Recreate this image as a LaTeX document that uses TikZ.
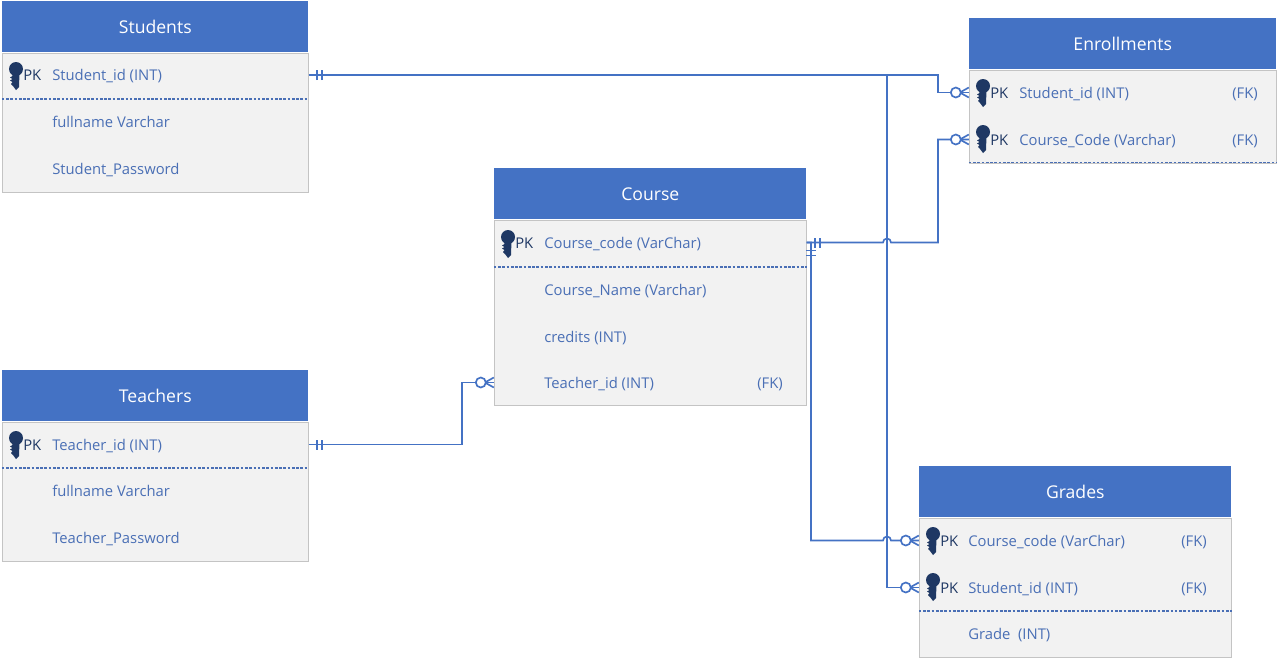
\documentclass[tikz,border=0pt]{standalone}
\usepackage{fontspec}
\setmainfont{Open Sans}
\usetikzlibrary{positioning}
\definecolor{headblue}{HTML}{4472C4}
\definecolor{bodygrey}{HTML}{F2F2F2}
\definecolor{edgegrey}{HTML}{C4C4C4}
\definecolor{rowblue}{HTML}{4A6FB5}
\definecolor{keynavy}{HTML}{1F3864}
\tikzset{
  tablehead/.style={fill=headblue,text=white,font=\fontsize{13.2}{15}\selectfont,inner sep=0pt,minimum height=38.25pt,minimum width=#1},
  tablebody/.style={fill=bodygrey,draw=edgegrey,line width=0.7pt,inner sep=0pt,minimum width=#1},
  rowtext/.style={anchor=west,inner sep=0pt,text=rowblue,font=\fontsize{11.1}{13}\selectfont,text height=10pt,text depth=1.5pt},
  pktext/.style={rowtext,text=keynavy},
  keyrule/.style={draw=rowblue,line width=1pt,dash pattern=on 2pt off 1.2pt},
  link/.style={draw=headblue,line width=1.25pt},
  keyicon/.pic={
    \fill[keynavy] (0,7) circle (7);
    \fill[keynavy] (-4,3) -- (-3.5,0) -- (-6,-1.5) -- (-3.5,-3) -- (-6,-4.5) -- (-3.5,-6) -- (-5,-8) -- (-3,-10) -- (0,-14) -- (3,-11) -- (3.5,3) -- cycle;
  },
  onemark/.pic={
    \draw[link] (8,-5) -- (8,5);
    \draw[link] (13,-5) -- (13,5);
  },
  manymark/.pic={
    \draw[link] (0,-5) -- (-9,0) -- (0,5);
    \draw[link,fill=white] (-13,0) circle (5);
  },
}
\begin{document}
\begin{tikzpicture}[x=0.75pt,y=0.75pt]
\useasboundingbox (0,0) rectangle (1277,-658);
% students
\node [tablehead=229.5pt,anchor=north west] (students) at (2,-1) {Students};
\node [tablebody=229.5pt,minimum height=104.5pt,below=0pt of students] (stubody) {};
\node [rowtext] (stuid) at (52,-75) {Student\_id (INT)};
\node [rowtext] (stuname) at (52,-121.5) {fullname Varchar};
\node [rowtext] (stupass) at (52,-168.5) {Student\_Password};
\node [pktext] (stupk) at (23,-75) {PK};
\pic at (16,-76) {keyicon};
\draw [keyrule] (stubody.west |- 0,-99) -- (stubody.east |- 0,-99);
% teachers
\node [tablehead=229.5pt,anchor=north west] (teachers) at (2,-370) {Teachers};
\node [tablebody=229.5pt,minimum height=104.5pt,below=0pt of teachers] (teabody) {};
\node [rowtext] (teaid) at (52,-444.5) {Teacher\_id (INT)};
\node [rowtext] (teaname) at (52,-491) {fullname Varchar};
\node [rowtext] (teapass) at (52,-537.5) {Teacher\_Password};
\node [pktext] (teapk) at (23,-444.5) {PK};
\pic at (16,-445) {keyicon};
\draw [keyrule] (teabody.west |- 0,-468) -- (teabody.east |- 0,-468);
% course
\node [tablehead=234pt,anchor=north west] (course) at (494,-168) {Course};
\node [tablebody=234pt,minimum height=139pt,below=0pt of course] (crsbody) {};
\node [rowtext] (crscode) at (544,-242.5) {Course\_code (VarChar)};
\node [rowtext] (crsname) at (544,-289.5) {Course\_Name (Varchar)};
\node [rowtext] (crscred) at (544,-336.5) {credits (INT)};
\node [rowtext] (crsteach) at (544,-382.5) {Teacher\_id (INT)};
\node [rowtext] (crsfk) at (757,-382.5) {(FK)};
\node [pktext] (crspk) at (515,-242.5) {PK};
\pic at (508,-244) {keyicon};
\draw [keyrule] (crsbody.west |- 0,-267) -- (crsbody.east |- 0,-267);
% enrollments
\node [tablehead=230.25pt,anchor=north west] (enroll) at (969,-18) {Enrollments};
\node [tablebody=230.25pt,minimum height=70pt,below=0pt of enroll] (enrbody) {};
\node [rowtext] (enrstu) at (1019,-92.5) {Student\_id (INT)};
\node [rowtext] (enrcrs) at (1019,-139.5) {Course\_Code (Varchar)};
\node [rowtext] (enrfka) at (1232,-92.5) {(FK)};
\node [rowtext] (enrfkb) at (1232,-139.5) {(FK)};
\node [pktext] (enrpka) at (990,-92.5) {PK};
\node [pktext] (enrpkb) at (990,-139.5) {PK};
\pic at (983,-93) {keyicon};
\pic at (983,-139) {keyicon};
\draw [keyrule] (enrbody.west |- 0,-162.5) -- (enrbody.east |- 0,-162.5);
% grades
\node [tablehead=234pt,anchor=north west] (grades) at (919,-466) {Grades};
\node [tablebody=234pt,minimum height=104.5pt,below=0pt of grades] (grdbody) {};
\node [rowtext] (grdcrs) at (968,-540.5) {Course\_code (VarChar)};
\node [rowtext] (grdstu) at (968,-587.5) {Student\_id (INT)};
\node [rowtext] (grdval) at (968,-633.5) {Grade~~(INT)};
\node [rowtext] (grdfka) at (1181,-540.5) {(FK)};
\node [rowtext] (grdfkb) at (1181,-587.5) {(FK)};
\node [pktext] (grdpka) at (940,-540.5) {PK};
\node [pktext] (grdpkb) at (940,-587.5) {PK};
\pic at (933,-541) {keyicon};
\pic at (933,-587) {keyicon};
\draw [keyrule] (grdbody.west |- 0,-611) -- (grdbody.east |- 0,-611);
% connectors
\coordinate (trunk) at (887,-75);
\coordinate (enrbend) at (938,-75);
\coordinate (crsbend) at (811,-242.5);
\draw [link] (stubody.east |- stuid) -- (enrbend) |- (enrbody.west |- enrstu);
\draw [link] (trunk) |- (grdbody.west |- grdstu);
\draw [link] (crsbody.east |- crscode) -- ([xshift=-3pt]trunk |- crscode) arc (180:0:3pt) -- (enrbend |- crscode) |- (enrbody.west |- enrcrs);
\draw [link] (crsbody.east |- crscode) -- (crsbend) |- ([xshift=-3pt]trunk |- grdcrs) arc (180:0:3pt) -- (grdbody.west |- grdcrs);
\draw [link] (teabody.east |- teaid) -| (462,-383) |- (crsbody.west |- crsteach);
\pic at (stubody.east |- stuid) {onemark};
\pic at (teabody.east |- teaid) {onemark};
\pic at (crsbody.east |- crscode) {onemark};
\pic [rotate=-90] at (crsbend) {onemark};
\pic at (enrbody.west |- enrstu) {manymark};
\pic at (enrbody.west |- enrcrs) {manymark};
\pic at (grdbody.west |- grdcrs) {manymark};
\pic at (grdbody.west |- grdstu) {manymark};
\pic at (crsbody.west |- crsteach) {manymark};
\end{tikzpicture}
\end{document}
